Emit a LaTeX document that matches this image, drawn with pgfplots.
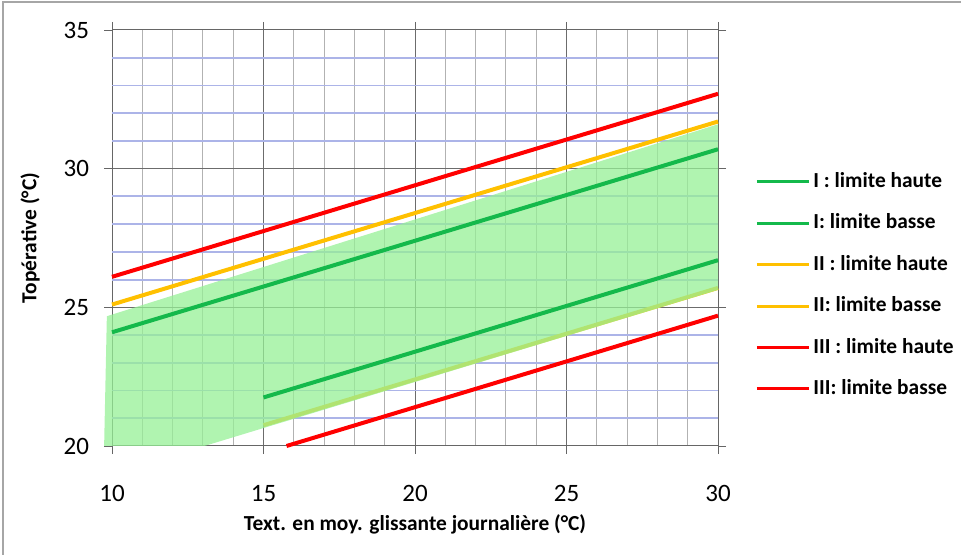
\documentclass[border=0pt]{standalone}
\usepackage{fontspec}
\setmainfont{Carlito}
\usepackage{pgfplots}
\pgfplotsset{compat=1.18}
\definecolor{cgreen}{RGB}{20,185,75}
\definecolor{corange}{RGB}{255,192,0}
\definecolor{cred}{RGB}{255,0,0}
\definecolor{cfill}{RGB}{150,240,150}
\definecolor{gminor}{RGB}{172,180,232}
\begin{document}
\begin{tikzpicture}
\useasboundingbox (0,0) rectangle (480.5pt,277.5pt);
\draw[gray!70, line width=0.8pt] (1.5pt,0) -- (1.5pt,276.5pt) -- (480.5pt,276.5pt);
\begin{axis}[
  at={(56pt,54.5pt)}, anchor=south west,
  scale only axis, width=303pt, height=208pt,
  xmin=10, xmax=30, ymin=20, ymax=35,
  xtick={10,15,20,25,30}, ytick={20,25,30,35},
  minor x tick num=4,
  extra y ticks={21,22,23,24,26,27,28,29,31,32,33,34},
  extra y tick labels={},
  extra y tick style={grid=major, major grid style={gminor, line width=0.95pt}, major tick length=0pt},
  grid=both,
  major grid style={gray!85!black, line width=0.5pt},
  minor grid style={gray!60, line width=0.5pt},
  axis line style={gray!80!black, line width=0.5pt},
  tick align=outside, major tick length=4pt, minor tick length=0pt,
  tick style={gray!80!black},
  clip=false,
  /pgf/number format/assume math mode=true,
  tick label style={font=\fontsize{12.5}{14}\selectfont},
  xticklabel style={yshift=-12pt},
  yticklabel style={xshift=-4pt},
  xlabel={Text. en moy. glissante journalière (°C)},
  ylabel={Topérative (°C)},
  label style={font=\bfseries\fontsize{10.7}{12}\selectfont},
  xlabel style={at={(axis description cs:0.5,-0.1875)}, anchor=center},
  ylabel style={at={(axis description cs:-0.135,0.5)}, anchor=center},
  legend style={draw=none, fill=none, inner sep=0pt,
    font=\bfseries\fontsize{10.7}{12}\selectfont,
    at={(axis cs:31.22,25.79)}, anchor=west,
    row sep=8.2pt,
    nodes={inner sep=1.5pt, text height=7.5pt, text depth=2pt}},
  legend cell align=left,
  legend image code/.code={\draw[#1] (0pt,0pt) -- (26pt,0pt);},
]
\addlegendimage{cgreen, line width=1.5pt}
\addlegendentry{I : limite haute}
\addlegendimage{cgreen, line width=1.5pt}
\addlegendentry{I: limite basse}
\addlegendimage{corange, line width=1.5pt}
\addlegendentry{II : limite haute}
\addlegendimage{corange, line width=1.5pt}
\addlegendentry{II: limite basse}
\addlegendimage{cred, line width=1.5pt}
\addlegendentry{III : limite haute}
\addlegendimage{cred, line width=1.5pt}
\addlegendentry{III: limite basse}

% II lower (under the fill)
\addplot[forget plot, corange, line width=2pt] coordinates {
(15,20.75)(16,21.08)(17,21.41)(18,21.74)(19,22.07)(20,22.4)(21,22.73)(22,23.06)(23,23.39)(24,23.72)(25,24.05)(26,24.38)(27,24.71)(28,25.04)(29,25.37)(30,25.7)};
% comfort area
\addplot[forget plot, draw=none, fill=cfill, fill opacity=0.75] coordinates {
(9.74,20)(9.83,24.68)(30,31.6)(30,25.63)(13.05,20)} -- cycle;
% I upper
\addplot[forget plot, cgreen, line width=2pt] coordinates {
(10,24.1)(11,24.43)(12,24.76)(13,25.09)(14,25.42)(15,25.75)(16,26.08)(17,26.41)(18,26.74)(19,27.07)(20,27.4)(21,27.73)(22,28.06)(23,28.39)(24,28.72)(25,29.05)(26,29.38)(27,29.71)(28,30.04)(29,30.37)(30,30.7)};
% I lower
\addplot[forget plot, cgreen, line width=2pt] coordinates {
(15,21.75)(16,22.08)(17,22.41)(18,22.74)(19,23.07)(20,23.4)(21,23.73)(22,24.06)(23,24.39)(24,24.72)(25,25.05)(26,25.38)(27,25.71)(28,26.04)(29,26.37)(30,26.7)};
% II upper
\addplot[forget plot, corange, line width=2pt] coordinates {
(10,25.1)(11,25.43)(12,25.76)(13,26.09)(14,26.42)(15,26.75)(16,27.08)(17,27.41)(18,27.74)(19,28.07)(20,28.4)(21,28.73)(22,29.06)(23,29.39)(24,29.72)(25,30.05)(26,30.38)(27,30.71)(28,31.04)(29,31.37)(30,31.7)};
% III upper
\addplot[forget plot, cred, line width=2pt] coordinates {
(10,26.1)(11,26.43)(12,26.76)(13,27.09)(14,27.42)(15,27.75)(16,28.08)(17,28.41)(18,28.74)(19,29.07)(20,29.4)(21,29.73)(22,30.06)(23,30.39)(24,30.72)(25,31.05)(26,31.38)(27,31.71)(28,32.04)(29,32.37)(30,32.7)};
% III lower
\addplot[forget plot, cred, line width=2pt] coordinates {
(15.76,20)(16,20.08)(17,20.41)(18,20.74)(19,21.07)(20,21.4)(21,21.73)(22,22.06)(23,22.39)(24,22.72)(25,23.05)(26,23.38)(27,23.71)(28,24.04)(29,24.37)(30,24.7)};
\end{axis}
\end{tikzpicture}
\end{document}
